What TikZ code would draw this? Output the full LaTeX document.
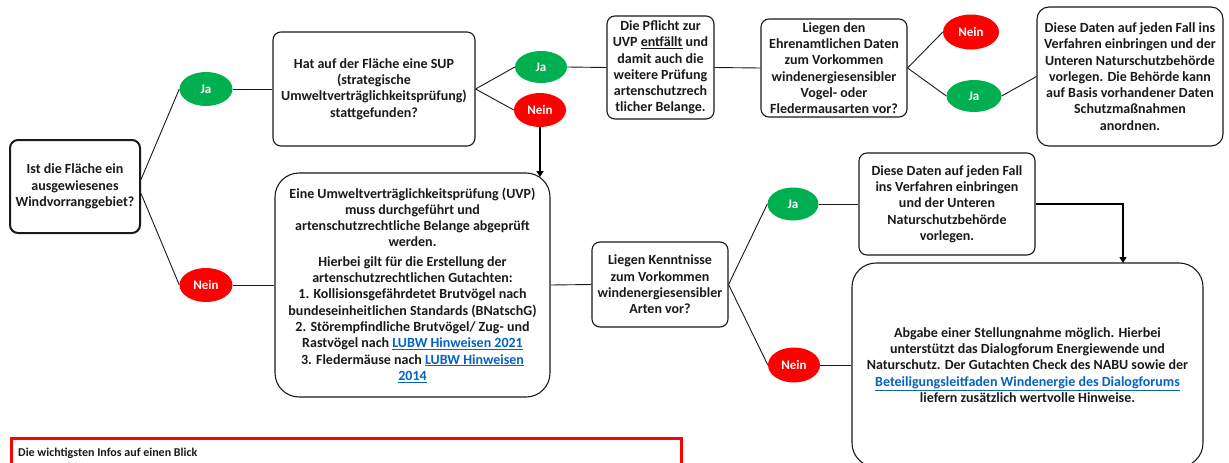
\documentclass[tikz,border=0pt]{standalone}
\usepackage{fontspec}
\setmainfont{Carlito}
\usetikzlibrary{arrows.meta,shapes.geometric}
\definecolor{jagreen}{HTML}{00B050}
\definecolor{neinred}{HTML}{FF0000}
\definecolor{linkblue}{HTML}{0563C1}
\definecolor{inkc}{HTML}{1A1A1A}
\newcommand{\lnk}[1]{\textcolor{linkblue}{\underline{#1}}}
\tikzset{
  box/.style={draw=inkc, line width=1.1pt, rounded corners=8pt, align=center,
    font=\fontsize{14}{16.3}\selectfont\bfseries, text=inkc, inner sep=1pt},
  yes/.style={ellipse, fill=jagreen, text=white, font=\fontsize{13}{15}\selectfont\bfseries,
    minimum width=53pt, minimum height=34pt, inner sep=0pt},
  no/.style={ellipse, fill=neinred, text=white, font=\fontsize{13}{15}\selectfont\bfseries,
    minimum width=53pt, minimum height=34pt, inner sep=0pt},
  conn/.style={draw=inkc, line width=0.9pt},
  arr/.style={draw=black, line width=2pt, -{Triangle[width=7pt,length=6pt]}}
}
\begin{document}
\begin{tikzpicture}[x=1pt,y=-1pt]
\useasboundingbox (0,0) rectangle (1229,463);
\fill[white] (0,0) rectangle (1229,463);

\node[box, line width=2pt, minimum width=130pt, minimum height=93pt] (A) at (75,186.5)
  {Ist die Fläche ein\\ausgewiesenes\\Windvorranggebiet?};
\node[yes] (Ja1) at (206,89) {Ja};
\node[no] (N1) at (206,285) {Nein};
\node[box, minimum width=202pt, minimum height=114pt] (B) at (374,89)
  {Hat auf der Fläche eine SUP\\(strategische\\Umweltverträglichkeitsprüfung)\\stattgefunden?};
\node[box, rounded corners=24pt, minimum width=275pt, minimum height=224pt] (C) at (412.5,285)
  {Eine Umweltverträglichkeitsprüfung (UVP)\\muss durchgeführt und\\artenschutzrechtliche Belange abgeprüft\\werden.\\[3pt]
   Hierbei gilt für die Erstellung der\\artenschutzrechtlichen Gutachten:\\1. Kollisionsgefährdetet Brutvögel nach\\bundeseinheitlichen Standards (BNatschG)\\2. Störempfindliche Brutvögel/ Zug- und\\Rastvögel nach \lnk{LUBW Hinweisen 2021}\\3. Fledermäuse nach \lnk{LUBW Hinweisen}\\\lnk{2014}};
\node[yes, minimum width=52pt, minimum height=32pt] (Ja2) at (541,67) {Ja};
\node[no, minimum width=52pt, minimum height=34pt] (N2) at (540,110) {Nein};
\node[box, minimum width=107pt, minimum height=103pt] (D) at (660.5,67.5)
  {Die Pflicht zur\\UVP \underline{entfällt} und\\damit auch die\\weitere Prüfung\\artenschutzrech\\tlicher Belange.};
\node[box, minimum width=146pt, minimum height=98pt] (E) at (834,68)
  {Liegen den\\Ehrenamtlichen Daten\\zum Vorkommen\\windenergiesensibler\\Vogel- oder\\Fledermausarten vor?};
\node[no, minimum width=56pt, minimum height=35pt] (N3) at (971,32) {Nein};
\node[yes, minimum width=55pt, minimum height=32pt] (Ja3) at (974,96) {Ja};
\node[box, rounded corners=12pt, minimum width=186pt, minimum height=139pt] (F) at (1130,76.5)
  {Diese Daten auf jeden Fall ins\\Verfahren einbringen und der\\Unteren Naturschutzbehörde\\vorlegen. Die Behörde kann\\auf Basis vorhandener Daten\\Schutzmaßnahmen\\anordnen.};
\node[box, minimum width=136pt, minimum height=85pt] (G) at (660,284.5)
  {Liegen Kenntnisse\\zum Vorkommen\\windenergiesensibler\\Arten vor?};
\node[yes, minimum width=51pt, minimum height=33pt] (Ja4) at (793,204) {Ja};
\node[no, minimum width=52pt, minimum height=35pt] (N4) at (794,365) {Nein};
\node[box, minimum width=176pt, minimum height=102pt] (H) at (947,204)
  {Diese Daten auf jeden Fall\\ins Verfahren einbringen\\und der Unteren\\Naturschutzbehörde\\vorlegen.};
\node[box, rounded corners=24pt, minimum width=351pt, minimum height=204pt] (I) at (1027.5,365)
  {Abgabe einer Stellungnahme möglich. Hierbei\\unterstützt das Dialogforum Energiewende und\\Naturschutz. Der Gutachten Check des NABU sowie der\\\lnk{Beteiligungsleitfaden Windenergie des Dialogforums}\\liefern zusätzlich wertvolle Hinweise.};

\node[draw=neinred, line width=2.5pt, minimum width=670pt, minimum height=44pt, anchor=north west, inner sep=0pt] (R) at (10,437) {};
\node[anchor=west, font=\fontsize{12}{14}\selectfont\bfseries, text=inkc, inner sep=0pt] (Rt) at (18,453) {Die wichtigsten Infos auf einen Blick};

\coordinate (cA) at (540,177);
\coordinate (cI) at (1123,263);

\draw[conn] (A.6) -- (Ja1.west);
\draw[conn] (A.-6) -- (N1.west);
\draw[conn] (Ja1.east) -- (B.west);
\draw[conn] (N1.east) -- (C.west);
\draw[conn] (B.east) -- (Ja2.west);
\draw[conn] (B.east) -- (N2.west);
\draw[conn] (Ja2.east) -- (D.west);
\draw[conn] (D.east) -- (E.west);
\draw[conn] (E.east) -- (N3.west);
\draw[conn] (E.east) -- (Ja3.west);
\draw[conn] (Ja3.east) -- (F.west);
\draw[conn] (C.east) -- (G.west);
\draw[conn] (G.east) -- (Ja4.west);
\draw[conn] (G.east) -- (N4.west);
\draw[conn] (Ja4.east) -- (H.west);
\draw[conn] (N4.east) -- (I.west);
\draw[arr] (N2.south) -- (cA);
\draw[arr] (H.east) -| (cI);
\end{tikzpicture}
\end{document}
